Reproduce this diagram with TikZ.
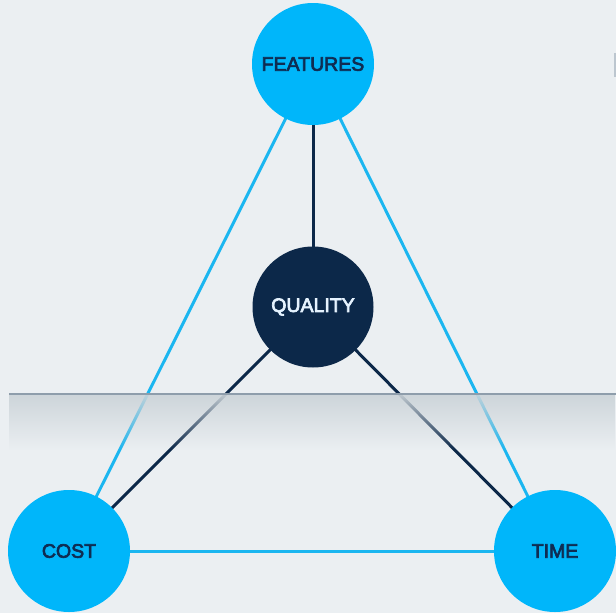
\documentclass[tikz,border=0pt]{standalone}
\usepackage{fontspec}
\setmainfont{Liberation Sans}
\newfontfamily\medfont{Liberation Sans}[FakeBold=3.5]
\usetikzlibrary{fadings}
\definecolor{bg}{HTML}{EBEFF2}
\definecolor{cblue}{HTML}{00B6FA}
\definecolor{lblue}{HTML}{1BB6F0}
\definecolor{navy}{HTML}{0C2849}
\definecolor{navytext}{HTML}{0F2C52}
\definecolor{qtext}{HTML}{E6F3FF}
\definecolor{bandline}{HTML}{8E9DAB}
\definecolor{bandfill}{HTML}{CBD3D8}
\tikzfading[name=bandfade, top color=transparent!8, bottom color=transparent!100]
\tikzset{
  outer/.style={circle, fill=cblue, minimum size=122pt, inner sep=0pt, text=navytext, font=\medfont\fontsize{19.5}{20}\selectfont},
  inner/.style={circle, fill=navy, minimum size=121pt, inner sep=0pt, text=qtext, font=\medfont\fontsize{19.5}{20}\selectfont},
  blueline/.style={lblue, line width=3pt},
  darkline/.style={navy, line width=3pt},
}
\begin{document}
\begin{tikzpicture}[x=1pt,y=-1pt]
\fill[bg] (0,0) rectangle (616,613);
\useasboundingbox (0,0) rectangle (616,613);
\fill[bandline!50!bg] (614,53) rectangle (616,77);
% node positions (centres only, for the connectors)
\coordinate (cF) at (313,64);
\coordinate (cQ) at (313,307);
\coordinate (cC) at (69,551);
\coordinate (cT) at (555,551);
% connectors
\draw[blueline] (cF) -- (cC);
\draw[blueline] (cF) -- (cT);
\draw[blueline] (cC) -- (cT);
\draw[darkline] (cQ) -- (cF);
\draw[darkline] (cQ) -- (cC);
\draw[darkline] (cQ) -- (cT);
% band
\fill[bandfill, path fading=bandfade] (9,395) rectangle (616,450);
\fill[bandline] (9,393) rectangle (616,395.2);
% nodes
\node[outer] (F) at (cF) {FEATURES};
\node[inner] (Q) at (cQ) {QUALITY};
\node[outer] (C) at (cC) {COST};
\node[outer] (T) at (cT) {TIME};
\end{tikzpicture}
\end{document}
